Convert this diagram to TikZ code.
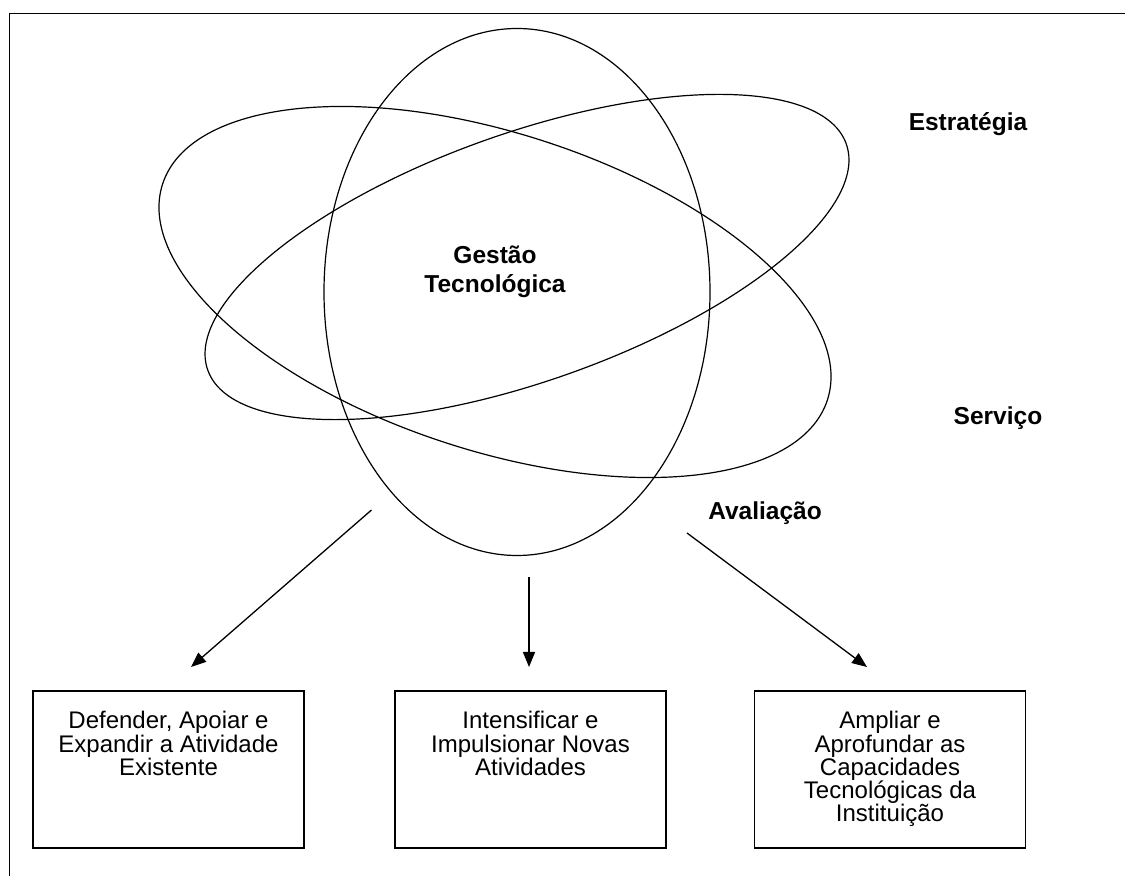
\documentclass[tikz,border=0pt]{standalone}
\usepackage{fontspec}
\setmainfont{Liberation Sans}
\usetikzlibrary{arrows.meta}
\begin{document}
\begin{tikzpicture}[x=1pt,y=1pt,
  orbit/.style={line width=1.2pt},
  outcome/.style={draw, line width=1.6pt, minimum width=271pt, minimum height=157pt, inner sep=0pt},
  outcometext/.style={anchor=north, align=center, inner sep=0pt, font=\fontsize{24}{23.3}\selectfont},
  tag/.style={font=\fontsize{24.5}{29.5}\selectfont\bfseries, inner sep=0pt, align=center},
  flow/.style={line width=1.3pt, -{Triangle[length=15pt,width=12pt]}}]
\useasboundingbox (0,0) rectangle (1125,876);

% frame
\draw[line width=1.5pt] (9.5,0) -- (9.5,862.7) -- (1125,862.7);

% the three orbits
\draw[orbit] (517,584) ellipse [x radius=193pt, y radius=263.5pt];
\draw[orbit, rotate around={-18:(495,584)}] (495,584) ellipse [x radius=349.5pt, y radius=158.6pt];
\draw[orbit, rotate around={19.5:(527,619)}] (527,619) ellipse [x radius=338.7pt, y radius=124pt];

% labels
\node[tag] (core) at (495,604) {Gestão\\Tecnológica};
\node[tag] (strat) at (968,752) {Estratégia};
\node[tag] (serv) at (998,458) {Serviço};
\node[tag] (aval) at (765,363) {Avaliação};

% outcome boxes
\node[outcome] (b1) at (168.5,106.5) {};
\node[outcome] (b2) at (530.5,106.5) {};
\node[outcome] (b3) at (890,106.5) {};
\node[outcometext] (b1t) at ([yshift=-21pt]b1.north) {Defender, Apoiar e\\Expandir a Atividade\\Existente};
\node[outcometext] (b2t) at ([yshift=-21pt]b2.north) {Intensificar e\\Impulsionar Novas\\Atividades};
\node[outcometext] (b3t) at ([yshift=-21pt]b3.north) {Ampliar e\\Aprofundar as\\Capacidades\\Tecnológicas da\\Instituição};

% arrows
\coordinate (s1) at (371.5,366);
\coordinate (t1) at (191,209);
\coordinate (s2) at (529,299);
\coordinate (t2) at (529,209);
\coordinate (s3) at (687,343);
\coordinate (t3) at (867,209);
\draw[flow] (s1) -- (t1);
\draw[flow] (s2) -- (t2);
\draw[flow] (s3) -- (t3);
\end{tikzpicture}
\end{document}
